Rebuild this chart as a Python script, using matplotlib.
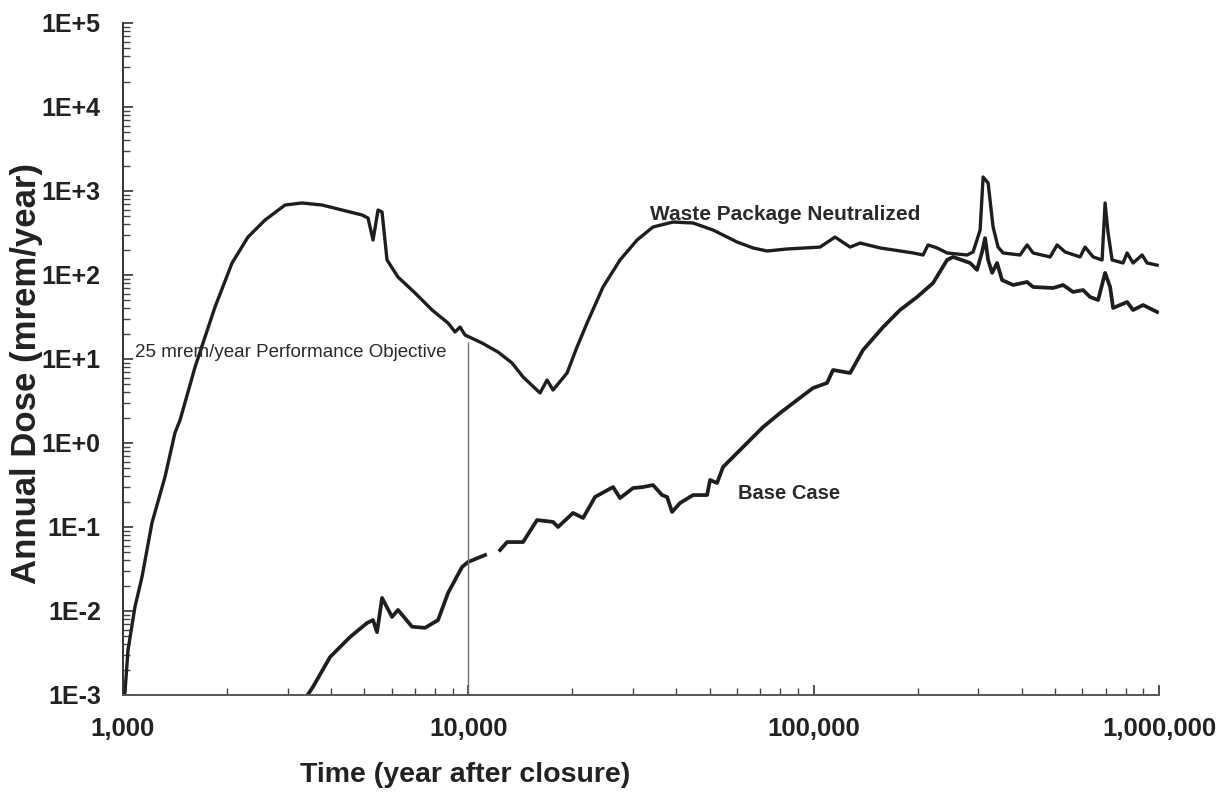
import numpy as np
import matplotlib
matplotlib.use("Agg")
import matplotlib.pyplot as plt
from matplotlib.ticker import FixedLocator, LogLocator, NullFormatter

plt.rcParams['font.family'] = ['Liberation Sans', 'DejaVu Sans']

# ---- Data ----
wpn_time = [1000, 1013, 1034, 1083, 1135, 1213, 1323, 1414, 1463, 1617, 1728, 1847,
            2069, 2301, 2578, 2946, 3299, 3770, 4308, 4923, 5123, 5297, 5477, 5625,
            5815, 6256, 7009, 7852, 8735, 9151, 9462, 9783, 10958, 12190, 13386,
            14403, 16130, 16902, 17593, 19310, 20643, 22070, 24550, 27500, 30810,
            34260, 39150, 44750, 51140, 60010, 66740, 73290, 83750, 104360, 115330,
            127500, 136300, 155700, 194100, 207400, 214400, 227700, 243400, 278100,
            289500, 303400, 309500, 320000, 330800, 342000, 353600, 396000, 415000,
            431900, 483700, 507000, 534700, 590900, 610900, 644400, 684200, 698100,
            712200, 731400, 787000, 808300, 841400, 893600, 923800, 987400]
wpn_dose = [0.001, 0.00106, 0.00343, 0.0112, 0.0254, 0.112, 0.394, 1.32, 1.88, 8.03,
            18.3, 41.6, 139, 283, 451, 681, 720, 681, 594, 518, 477, 261, 594, 562,
            151, 94.6, 61.1, 38.3, 26.8, 21.0, 24.0, 19.3, 15.5, 12.1, 8.96,
            6.11, 3.94, 5.62, 4.27, 6.81, 13.9, 26.8, 72.0, 151, 261,
            373, 427, 416, 343, 247, 210, 193, 204, 215, 283,
            215, 240, 210, 183, 173, 228, 210, 183, 173,
            188, 343, 1468, 1245, 373, 215, 183, 173, 228,
            183, 164, 228, 188, 164, 215, 164, 151, 720,
            316, 151, 139, 183, 139, 173, 139, 131]

base_time = [3322, 3549, 3977, 4544, 5089, 5297, 5440, 5625, 6012, 6256, 6871, 7493,
             8171, 8735, 9590, 9980, 11180, 11700, 12360, 12950, 14403, 15810, 17590,
             18190, 20100, 21490, 23280, 26250, 27500, 29990, 32060, 34260, 36390,
             37630, 38900, 41030, 44750, 49130, 50120, 52500, 54650, 62450, 71390,
             79980, 89550, 99600, 109300, 113800, 127500, 139000, 158900, 177800,
             199300, 221700, 243400, 253400, 283800, 297200, 307400, 313600, 320000,
             328700, 339700, 351200, 378000, 415000, 431900, 493500, 527700, 563700,
             602800, 631600, 666300, 698100, 721800, 736400, 808300, 841400, 899400,
             987400]
base_dose = [0.00083, 0.00125, 0.00283, 0.0049, 0.0072, 0.0078, 0.0056, 0.0143, 0.0085,
             0.0103, 0.0065, 0.0063, 0.0078, 0.0164, 0.0334, 0.0383, 0.0464, np.nan,
             0.0532, 0.0662, 0.0662, 0.121, 0.115, 0.100, 0.147, 0.128, 0.228, 0.299,
             0.221, 0.291, 0.299, 0.316, 0.240, 0.228, 0.151, 0.193, 0.240, 0.240,
             0.363, 0.334, 0.518, 0.896, 1.55, 2.28, 3.25, 4.52, 5.18, 7.40, 6.81,
             12.8, 24.0, 38.3, 54.7, 80.3, 151, 164, 139, 115, 188, 275, 151, 106,
             139, 87.1, 76.0, 82.6, 72.0, 70.0, 76.0, 62.8, 66.2, 54.7, 50.4, 106,
             72.0, 40.5, 47.7, 38.3, 43.9, 36.3]

objective_time = 10000
objective_top = 16

x_ticks = [1e3, 1e4, 1e5, 1e6]
x_labels = ['1,000', '10,000', '100,000', '1,000,000']
y_ticks = [1e-3, 1e-2, 1e-1, 1e0, 1e1, 1e2, 1e3, 1e4, 1e5]
y_labels = ['1E-3', '1E-2', '1E-1', '1E+0', '1E+1', '1E+2', '1E+3', '1E+4', '1E+5']

# ---- Figure ----
fig = plt.figure(figsize=(12.22, 8.06), dpi=100)
ax = fig.add_axes([123 / 1222, 1 - 695 / 806, (1159 - 123) / 1222, (695 - 23) / 806])
ax.set_xscale('log')
ax.set_yscale('log')
ax.set_xlim(1e3, 1e6)
ax.set_ylim(1e-3, 1e5)

line_color = '#1e1e1e'
ax.plot(wpn_time, wpn_dose, color=line_color, lw=2.4, solid_joinstyle='round')
ax.plot(base_time, base_dose, color=line_color, lw=2.7, solid_joinstyle='round')
ax.vlines(objective_time, 1e-3, objective_top, color='#707070', lw=1.0)

ax.text(1083, 12.1, '25 mrem/year Performance Objective', fontsize=13.5,
        color='#2a2a2a', ha='left', va='center')
ax.text(33600, 518, 'Waste Package Neutralized', fontsize=15, fontweight='bold',
        color='#2a2a2a', ha='left', va='center')
ax.text(60500, 0.25, 'Base Case', fontsize=14.5, fontweight='bold',
        color='#2a2a2a', ha='left', va='center')

for s in ['top', 'right']:
    ax.spines[s].set_visible(False)
ax.spines['left'].set_linewidth(1.4)
ax.spines['left'].set_color('#333333')
ax.spines['bottom'].set_linewidth(1.4)
ax.spines['bottom'].set_color('#555555')

ax.xaxis.set_major_locator(FixedLocator(x_ticks))
ax.set_xticklabels(x_labels)
ax.yaxis.set_major_locator(FixedLocator(y_ticks))
ax.set_yticklabels(y_labels)
ax.xaxis.set_minor_locator(LogLocator(base=10, subs=np.arange(2, 10)))
ax.yaxis.set_minor_locator(LogLocator(base=10, subs=np.arange(2, 10), numticks=20))
ax.xaxis.set_minor_formatter(NullFormatter())
ax.yaxis.set_minor_formatter(NullFormatter())

ax.tick_params(axis='both', which='major', direction='in', length=7, width=1.2,
               colors='#333333', labelcolor='#222222')
ax.tick_params(axis='both', which='minor', direction='in', length=5, width=1.0,
               colors='#444444')
ax.tick_params(axis='x', which='major', labelsize=18.5, pad=16)
ax.tick_params(axis='y', which='major', labelsize=18, pad=16)
for lab in ax.get_xticklabels() + ax.get_yticklabels():
    lab.set_fontweight('bold')

ax.set_xlabel('Time (year after closure)', fontsize=20.5, fontweight='bold',
              color='#222222')
ax.xaxis.set_label_coords((465 - 123) / 1036, -(762 - 695) / 672)
ax.set_ylabel('Annual Dose (mrem/year)', fontsize=25, fontweight='bold',
              color='#222222')
ax.yaxis.set_label_coords(-(123 - 43) / 1036, 0.478)

fig.savefig('out.png', dpi=100, facecolor='white')
